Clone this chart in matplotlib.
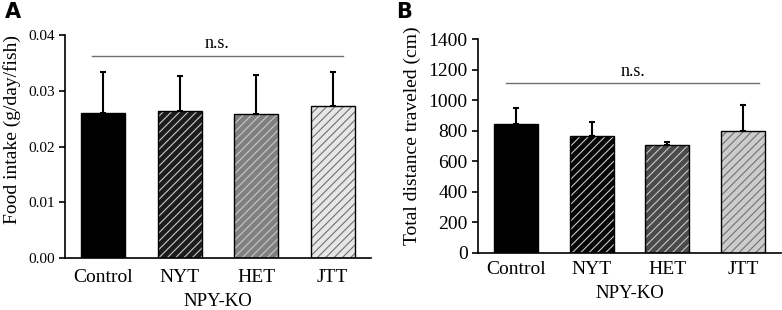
import numpy as np
import matplotlib.pyplot as plt

plt.rcParams['font.family'] = ['Liberation Serif', 'DejaVu Serif']
plt.rcParams['hatch.linewidth'] = 0.8

groups = ["Control", "NYT", "HET", "JTT"]

# Panel A: food intake
food_mean = [0.0260, 0.0264, 0.0259, 0.0273]
food_err = [0.0074, 0.0063, 0.0069, 0.0061]

# Panel B: total distance traveled
dist_mean = [845, 769, 710, 800]
dist_err = [107, 89, 15, 168]

faces_a = ["#000000", "#1c1c1c", "#808080", "#e6e6e6"]
hatchcol_a = [None, "#c8c8c8", "#c8c8c8", "#707070"]
faces_b = ["#000000", "#050505", "#4a4a4a", "#cccccc"]
hatchcol_b = [None, "#c8c8c8", "#c8c8c8", "#707070"]

fig = plt.figure(figsize=(7.82, 3.10), dpi=100)
axA = fig.add_axes([0.0831, 0.1677, 0.3913, 0.7194])
axB = fig.add_axes([0.6113, 0.1839, 0.3875, 0.6893])


def draw_panel(ax, means, errs, faces, hcols, ylim, ticks, fmt, tick_fs, ylabel,
               xpad, ns_y, ns_x):
    x = np.arange(len(groups))
    w = 0.58
    for i in range(len(groups)):
        if hcols[i] is None:
            ax.bar(x[i], means[i], w, color=faces[i], edgecolor="black", linewidth=1.0, zorder=2)
        else:
            ax.bar(x[i], means[i], w, color=faces[i], edgecolor=hcols[i], hatch="////",
                   linewidth=0, zorder=2)
            ax.bar(x[i], means[i], w, fill=False, edgecolor="black", linewidth=1.0, zorder=3)
    ax.errorbar(x, means, yerr=[np.zeros(len(errs)), errs], fmt="none", ecolor="black",
                elinewidth=1.5, capsize=2.5, capthick=1.5, zorder=1)
    ax.set_xlim(-0.5, 3.5)
    ax.set_ylim(*ylim)
    ax.set_yticks(ticks)
    ax.set_yticklabels([fmt.format(t) for t in ticks], fontsize=tick_fs)
    ax.set_xticks(x)
    ax.set_xticklabels(groups, fontsize=14)
    ax.tick_params(axis="x", length=0, pad=xpad)
    ax.tick_params(axis="y", direction="out", length=4, width=1.2)
    ax.spines["top"].set_visible(False)
    ax.spines["right"].set_visible(False)
    ax.spines["left"].set_linewidth(1.2)
    ax.spines["bottom"].set_linewidth(1.2)
    ax.set_ylabel(ylabel, fontsize=14)
    ax.set_xlabel("NPY-KO", fontsize=13.5, labelpad=5)
    ax.plot(ns_x, [ns_y, ns_y], color="#707070", linewidth=1.0, clip_on=False)
    ax.text(np.mean(ns_x), ns_y + (ylim[1] - ylim[0]) * 0.015, "n.s.", ha="center",
            va="bottom", fontsize=13)


draw_panel(axA, food_mean, food_err, faces_a, hatchcol_a, (0, 0.04),
           [0, 0.01, 0.02, 0.03, 0.04], "{:.2f}", 11, "Food intake (g/day/fish)",
           8, 0.0363, [-0.15, 3.13])
draw_panel(axB, dist_mean, dist_err, faces_b, hatchcol_b, (0, 1400),
           list(range(0, 1401, 200)), "{:d}", 14, "Total distance traveled (cm)",
           6, 1112, [-0.13, 3.21])

# y labels sit a bit above the axis centre in the original
axA.yaxis.set_label_coords(-0.144, 0.578)
axB.yaxis.set_label_coords(-0.188, 0.547)

fig.text(0.006, 0.995, "A", fontsize=15, fontweight="bold", family="DejaVu Sans",
         ha="left", va="top")
fig.text(0.506, 0.995, "B", fontsize=15, fontweight="bold", family="DejaVu Sans",
         ha="left", va="top")

fig.savefig("out.png", dpi=100)
